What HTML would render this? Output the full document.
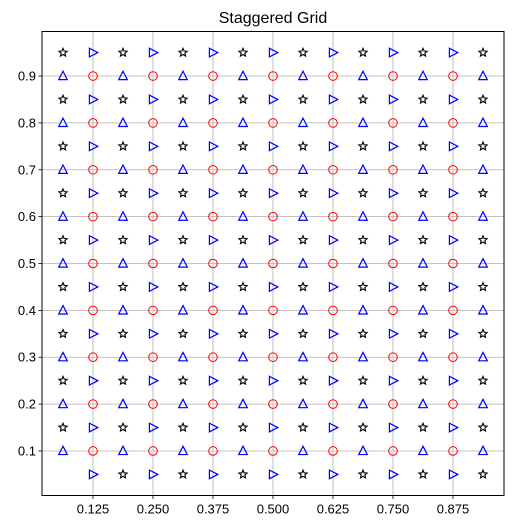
<!DOCTYPE html>
<html><head><meta charset="utf-8"><style>
body{margin:0;background:#fff;}
svg{display:block;font-family:"Liberation Sans","DejaVu Sans",sans-serif;}
</style></head><body>
<svg id="chart" width="516" height="528">
<text x="273" y="23" text-anchor="middle" font-size="16">Staggered Grid</text>
<g id="grid"></g>
<g id="marks"></g>
<g id="axes"></g>
</svg>
<script>
const xTicks=[0.125,0.25,0.375,0.5,0.625,0.75,0.875];
const xTickLabels=["0.125","0.250","0.375","0.500","0.625","0.750","0.875"];
const yTicks=[0.1,0.2,0.3,0.4,0.5,0.6,0.7,0.8,0.9];
const yTickLabels=["0.1","0.2","0.3","0.4","0.5","0.6","0.7","0.8","0.9"];
const colsEven=[0.125,0.25,0.375,0.5,0.625,0.75,0.875];
const colsOdd=[0.0625,0.1875,0.3125,0.4375,0.5625,0.6875,0.8125,0.9375];
const rowsEven=[0.1,0.2,0.3,0.4,0.5,0.6,0.7,0.8,0.9];
const rowsOdd=[0.05,0.15,0.25,0.35,0.45,0.55,0.65,0.75,0.85,0.95];
const missingStar=[0.0625,0.05];
const L=42,R=504,T=31.5,B=495.5,x0=0.01875,x1=0.98125,y0=0.005,y1=0.995;
const X=v=>L+(v-x0)/(x1-x0)*(R-L);
const Y=v=>B-(v-y0)/(y1-y0)*(B-T);
const NS="http://www.w3.org/2000/svg";
function mk(tag,attrs,parent){const e=document.createElementNS(NS,tag);for(const k in attrs)e.setAttribute(k,attrs[k]);parent.appendChild(e);return e;}
const grid=document.getElementById('grid'),marks=document.getElementById('marks'),axes=document.getElementById('axes');
xTicks.forEach((t,i)=>{
 const l=mk('line',{x1:X(t),x2:X(t),y1:T,y2:B,stroke:'#b0b0b0','stroke-width':0.8},grid);
 
 
 const tk=mk('line',{x1:X(t),x2:X(t),y1:B,y2:B+3.5,stroke:'#000','stroke-width':0.8},axes);
 
 
 const tx=mk('text',{x:X(t),y:B+18,'text-anchor':'middle','font-size':13},axes);
 tx.textContent=xTickLabels[i];
 
 
});
yTicks.forEach((t,i)=>{
 const l=mk('line',{x1:L,x2:R,y1:Y(t),y2:Y(t),stroke:'#b0b0b0','stroke-width':0.8},grid);
 
 
 const tk=mk('line',{x1:L-3.5,x2:L,y1:Y(t),y2:Y(t),stroke:'#000','stroke-width':0.8},axes);
 
 
 const tx=mk('text',{x:L-6,y:Y(t)+4.5,'text-anchor':'end','font-size':13},axes);
 tx.textContent=yTickLabels[i];
 
 
});
const fr=mk('rect',{x:L,y:T,width:R-L,height:B-T,fill:'none',stroke:'#000','stroke-width':1},axes);


function starPts(cx,cy,r){let p=[];for(let k=0;k<10;k++){const a=-Math.PI/2+k*Math.PI/5;const rr=k%2?r*0.45:r;p.push((cx+rr*Math.cos(a)).toFixed(2)+','+(cy+rr*Math.sin(a)).toFixed(2));}return p.join(' ');}
colsEven.forEach(cx=>rowsEven.forEach(cy=>{
 const e=mk('circle',{cx:X(cx),cy:Y(cy),r:4.3,fill:'none',stroke:'red','stroke-width':1},marks);
 
 
}));
colsOdd.forEach(cx=>rowsEven.forEach(cy=>{
 const x=X(cx),y=Y(cy);
 const e=mk('polygon',{points:`${x},${y-4.8} ${x+4.3},${y+3.6} ${x-4.3},${y+3.6}`,fill:'none',stroke:'blue','stroke-width':1.2},marks);
 
 
}));
colsEven.forEach(cx=>rowsOdd.forEach(cy=>{
 const x=X(cx),y=Y(cy);
 const e=mk('polygon',{points:`${x+4.8},${y} ${x-3.6},${y+4.3} ${x-3.6},${y-4.3}`,fill:'none',stroke:'blue','stroke-width':1.2},marks);
 
 
}));
colsOdd.forEach(cx=>rowsOdd.forEach(cy=>{
 if(cx===missingStar[0]&&cy===missingStar[1])return;
 const e=mk('polygon',{points:starPts(X(cx),Y(cy),4.3),fill:'none',stroke:'#000','stroke-width':1.1},marks);
 
 
}));
</script>
</body></html>
